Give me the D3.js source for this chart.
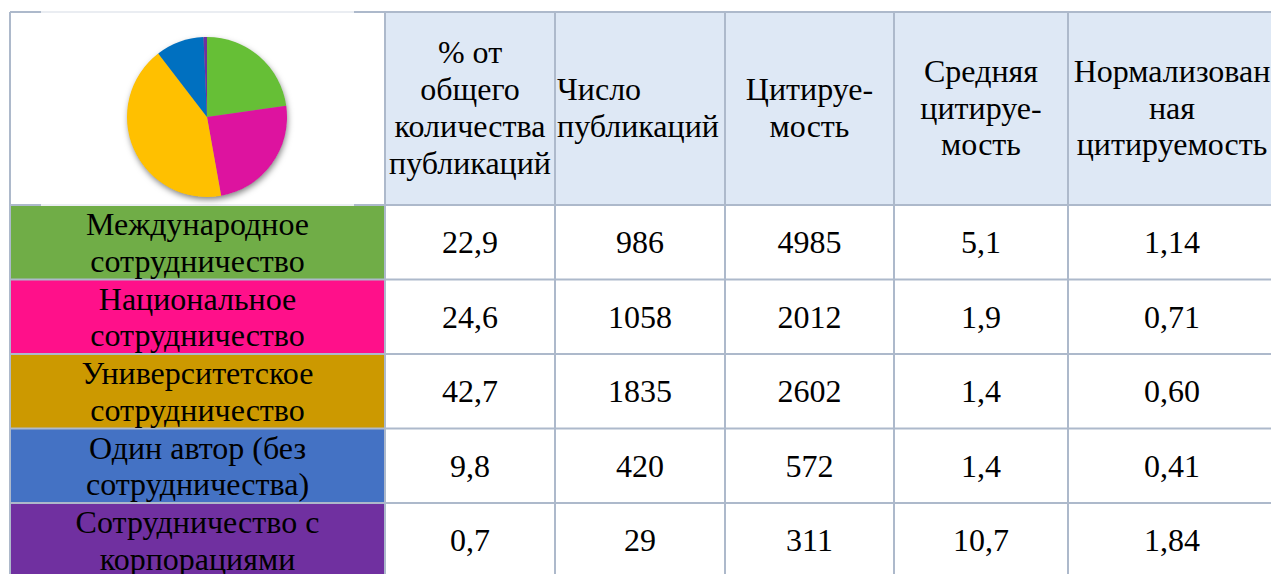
<!DOCTYPE html>
<meta charset="utf-8">
<body style="margin:0">
    <svg id="chart" width="1271" height="574" style="display:block"></svg>

    <script src="https://cdn.jsdelivr.net/npm/d3@7"></script>

    <script>
        // data
        var categories = [
            "Международное сотрудничество",
            "Национальное сотрудничество",
            "Университетское сотрудничество",
            "Один автор (без сотрудничества)",
            "Сотрудничество с корпорациями"
        ];
        var categoryLines = [
            ["Международное", "сотрудничество"],
            ["Национальное", "сотрудничество"],
            ["Университетское", "сотрудничество"],
            ["Один автор (без", "сотрудничества)"],
            ["Сотрудничество с", "корпорациями"]
        ];
        var headerLines = [
            ["% от", "общего", "количества", "публикаций"],
            ["Число", "публикаций"],
            ["Цитируе-", "мость"],
            ["Средняя", "цитируе-", "мость"],
            ["Нормализован", "ная", "цитируемость"]
        ];
        var pctShare = [22.9, 24.6, 42.7, 9.8, 0.7];
        var pubCount = [986, 1058, 1835, 420, 29];
        var citations = [4985, 2012, 2602, 572, 311];
        var avgCitation = [5.1, 1.9, 1.4, 1.4, 10.7];
        var normCitation = [1.14, 0.71, 0.60, 0.41, 1.84];

        var rowColors = ["#70AD47", "#FF108A", "#CC9900", "#4472C4", "#7030A0"];
        var sliceColors = ["#66BF36", "#DD139F", "#FFC000", "#0070C0", "#7030A0"];

        // layout
        var tableTop = 12, headerBottom = 205, rowH = 74.5;
        var colEdges = [10, 385, 555, 725, 894, 1068, 1276];
        var gridColor = "#ADB9CB";
        var fontFamily = "'Liberation Serif'";
        var fontSize = 32;
        var lineH = 36.8;

        var ru = d3.formatLocale({decimal: ",", thousands: " ", grouping: [3], currency: ["", ""]});
        var f1 = ru.format(".1f"), f2 = ru.format(".2f"), fd = ru.format("d");

        var columns = [
            { values: pctShare, fmt: f1 },
            { values: pubCount, fmt: fd },
            { values: citations, fmt: fd },
            { values: avgCitation, fmt: f1 },
            { values: normCitation, fmt: f2 }
        ];

        var svg = d3.select("#chart");

        var y = d3.scaleBand()
            .domain(categories)
            .range([headerBottom, headerBottom + rowH * categories.length]);

        // header background
        svg.append("rect")
            .attr("x", colEdges[1])
            .attr("y", tableTop)
            .attr("width", colEdges[6] - colEdges[1])
            .attr("height", headerBottom - tableTop)
            .attr("fill", "#DEE8F5");

        // row label cells
        svg.selectAll("rect.label")
            .data(categories)
            .enter()
            .append("rect")
            .attr("class", "label")
            .attr("x", colEdges[0])
            .attr("y", function(d) { return y(d); })
            .attr("width", colEdges[1] - colEdges[0])
            .attr("height", y.bandwidth())
            .attr("fill", function(d, i) { return rowColors[i]; });

        // grid lines
        var grid = svg.append("g")
            .attr("stroke", gridColor)
            .attr("stroke-width", 2);

        var hLines = [tableTop, headerBottom].concat(categories.map(function(d) { return y(d) + y.bandwidth(); }));
        grid.selectAll("line.h")
            .data(hLines)
            .enter()
            .append("line")
            .attr("x1", colEdges[0])
            .attr("x2", colEdges[6])
            .attr("y1", function(d) { return d; })
            .attr("y2", function(d) { return d; });

        grid.selectAll("line.v")
            .data(colEdges)
            .enter()
            .append("line")
            .attr("x1", function(d) { return d; })
            .attr("x2", function(d) { return d; })
            .attr("y1", tableTop)
            .attr("y2", 580);

        // white picture area over the corner cell
        svg.append("rect")
            .attr("x", 41)
            .attr("y", tableTop - 1)
            .attr("width", 313)
            .attr("height", headerBottom - tableTop + 2)
            .attr("fill", "#fff")
            .attr("fill-opacity", 0.75);

        // pie
        var defs = svg.append("defs");
        var shadow = defs.append("filter")
            .attr("id", "pieShadow")
            .attr("x", "-20%").attr("y", "-20%")
            .attr("width", "150%").attr("height", "150%");
        shadow.append("feDropShadow")
            .attr("dx", 1)
            .attr("dy", 3)
            .attr("stdDeviation", 3)
            .attr("flood-color", "#000")
            .attr("flood-opacity", 0.5);

        var radius = 80;
        var pie = d3.pie().sort(null);
        var arc = d3.arc().innerRadius(0).outerRadius(radius);

        var pieG = svg.append("g")
            .attr("transform", "translate(207,117)");

        pieG.append("circle")
            .attr("r", radius - 0.5)
            .attr("fill", "#999")
            .attr("filter", "url(#pieShadow)");

        pieG.selectAll("path")
            .data(pie(pctShare))
            .enter()
            .append("path")
            .attr("d", arc)
            .attr("fill", function(d, i) { return sliceColors[i]; });

        // header texts
        var headerAnchor = ["middle", "start", "middle", "middle", "middle"];
        var headerMid = (tableTop + headerBottom) / 2;
        headerLines.forEach(function(lines, c) {
            var x0 = colEdges[c + 1], x1 = colEdges[c + 2];
            var tx = headerAnchor[c] === "start" ? x0 + 2 : (x0 + x1) / 2;
            var t = svg.append("text")
                .attr("text-anchor", headerAnchor[c])
                .style("font-family", fontFamily)
                .style("font-size", fontSize + "px");
            lines.forEach(function(l, k) {
                t.append("tspan")
                    .attr("x", tx)
                    .attr("y", headerMid + (k - (lines.length - 1) / 2) * lineH + 10)
                    .text(l);
            });
        });

        // row label texts
        categories.forEach(function(cat, i) {
            var tx = (colEdges[0] + colEdges[1]) / 2;
            var t = svg.append("text")
                .attr("text-anchor", "middle")
                .style("font-family", fontFamily)
                .style("font-size", fontSize + "px");
            categoryLines[i].forEach(function(l, k) {
                t.append("tspan")
                    .attr("x", tx)
                    .attr("y", y(cat) + 30 + k * lineH)
                    .text(l);
            });
        });

        // values
        columns.forEach(function(col, c) {
            var tx = (colEdges[c + 1] + colEdges[c + 2]) / 2;
            svg.selectAll("text.v" + c)
                .data(col.values)
                .enter()
                .append("text")
                .attr("class", "v" + c)
                .attr("x", tx)
                .attr("y", function(d, i) { return y(categories[i]) + y.bandwidth() / 2 + 11; })
                .attr("text-anchor", "middle")
                .style("font-family", fontFamily)
                .style("font-size", fontSize + "px")
                .text(function(d) { return col.fmt(d); });
        });
    </script>
</body>
